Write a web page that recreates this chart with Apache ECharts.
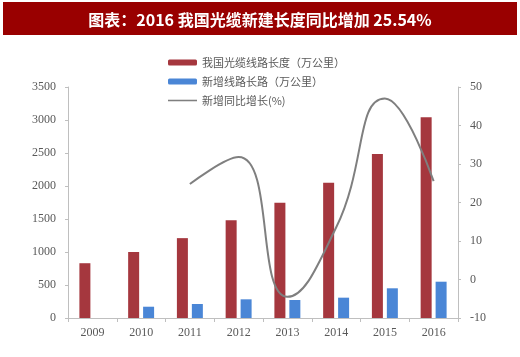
<!DOCTYPE html>
<html><head><meta charset="utf-8">
<script src="https://cdn.jsdelivr.net/npm/echarts@6/dist/echarts.min.js"></script>
<style>html,body{margin:0;padding:0;background:#fff}#c{width:520px;height:357px}</style>
</head><body><div id="c"></div>
<script>
var categories = ['2009','2010','2011','2012','2013','2014','2015','2016'];
var totalLength = [830, 1000, 1210, 1480, 1745, 2050, 2485, 3040];
var newLength = [null, 171, 212, 283, 273, 308, 450, 550];
var growth = [null, null, 24.8, 31.8, -4.5, 13.5, 47.0, 25.54];
var leftTicks = {min: 0, max: 3500, interval: 500};
var rightTicks = {min: -10, max: 50, interval: 10};
var names = ['我国光缆线路长度（万公里）', '新增线路长路（万公里）', '新增同比增长(%)'];
var titleText = '图表：2016 我国光缆新建长度同比增加 25.54%';

var chart = echarts.init(document.getElementById('c'), null, {renderer: 'canvas'});
var axisColor = '#BFBFBF';
var plain = function (v) { return String(v); };
var labelStyle = {color: '#595959', fontFamily: 'Liberation Serif', fontSize: 12};
chart.setOption({
  animation: false,
  backgroundColor: '#fff',
  graphic: [{type: 'rect', shape: {x: 3, y: 2, width: 514, height: 33}, style: {fill: '#990000'}}],
  title: {text: titleText, left: 'center', top: 7, textStyle: {color: '#fff', fontSize: 16, fontWeight: 'bold', fontFamily: 'Noto Sans CJK SC'}},
  legend: {
    orient: 'vertical', left: 163, top: 52, itemWidth: 29, itemHeight: 6, itemGap: 8,
    textStyle: {color: '#595959', fontSize: 11, fontFamily: 'Noto Sans CJK SC', lineHeight: 11},
    data: [names[0], names[1], {name: names[2], icon: 'path://M0,0 M0,6 M0,2.2 H30 V3.8 H0 Z'}]
  },
  grid: {left: 68, right: 62, top: 87, bottom: 39},
  xAxis: {
    type: 'category', data: categories,
    axisLine: {lineStyle: {color: axisColor}},
    axisTick: {show: true, length: 4, lineStyle: {color: axisColor}},
    axisLabel: Object.assign({margin: 9}, labelStyle)
  },
  yAxis: [{
    type: 'value', min: leftTicks.min, max: leftTicks.max, interval: leftTicks.interval,
    axisLine: {show: true, lineStyle: {color: axisColor}},
    axisTick: {show: true, length: 3, lineStyle: {color: axisColor}},
    splitLine: {show: false},
    axisLabel: Object.assign({margin: 12, formatter: plain}, labelStyle)
  }, {
    type: 'value', min: rightTicks.min, max: rightTicks.max, interval: rightTicks.interval,
    axisLine: {show: true, lineStyle: {color: axisColor}},
    axisTick: {show: true, length: 3, lineStyle: {color: axisColor}},
    splitLine: {show: false},
    axisLabel: Object.assign({margin: 12, formatter: plain}, labelStyle)
  }],
  series: [{
    name: names[0], type: 'bar', data: totalLength, barWidth: 11, barGap: '36%',
    itemStyle: {color: '#A5373E'}
  }, {
    name: names[1], type: 'bar', data: newLength, barWidth: 11, barGap: '36%',
    itemStyle: {color: '#4A86D6'}
  }, {
    name: names[2], type: 'line', yAxisIndex: 1, data: growth, smooth: 0.5,
    symbol: 'none', lineStyle: {color: '#7F7F7F', width: 2}, itemStyle: {color: '#7F7F7F'}
  }]
});
</script></body></html>
